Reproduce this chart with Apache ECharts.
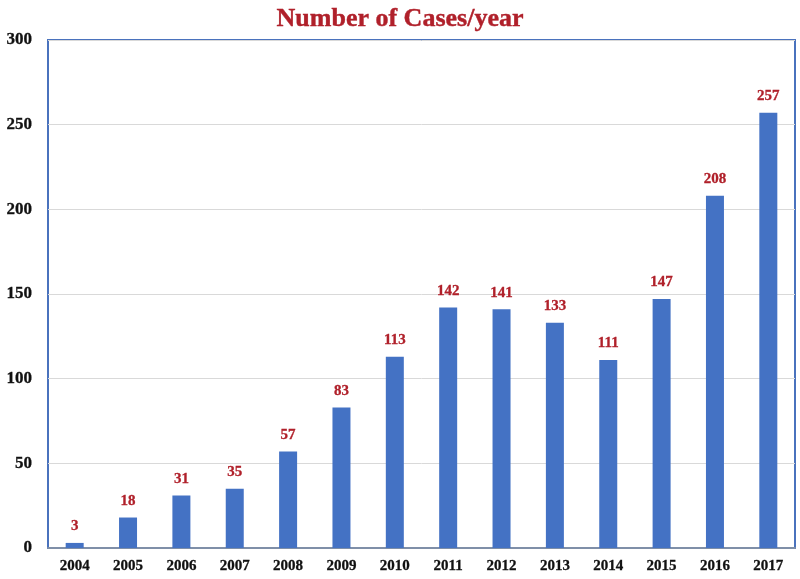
<!DOCTYPE html>
<html lang="en">
<head>
   <meta charset="utf-8">
   <title>Number of Cases/year</title>
   <script src="https://cdn.jsdelivr.net/npm/echarts@6/dist/echarts.min.js"></script>
   <style>
      html, body { margin: 0; padding: 0; background: #fff; }
      #chart-container { width: 800px; height: 579px; }
   </style>
</head>
<body>
   <div id="chart-container"></div>
   <script>
      var years = ['2004', '2005', '2006', '2007', '2008', '2009', '2010',
                   '2011', '2012', '2013', '2014', '2015', '2016', '2017'];
      var cases = [3, 18, 31, 35, 57, 83, 113, 142, 141, 133, 111, 147, 208, 257];

      var serif = 'Liberation Serif';

      var myChart = echarts.init(document.getElementById('chart-container'), null, {
         renderer: 'canvas'
      });

      var option = {
         animation: false,
         title: {
            text: 'Number of Cases/year',
            left: 'center',
            top: 1,
            textStyle: {
               fontFamily: serif,
               fontWeight: 700,
               fontSize: 26,
               color: '#b0202a',
               textBorderColor: '#b0202a',
               textBorderWidth: 0.4
            }
         },
         grid: {
            left: 48,
            right: 5,
            top: 40,
            bottom: 31,
            show: true,
            borderColor: '#4a72bd',
            borderWidth: 2,
            containLabel: false
         },
         xAxis: {
            type: 'category',
            data: years,
            axisLine: { lineStyle: { color: '#7f8fa8', width: 2 } },
            axisTick: { show: false },
            axisLabel: {
               margin: 11,
               fontFamily: serif,
               fontWeight: 700,
               fontSize: 15,
               color: '#111',
               textBorderColor: '#111',
               textBorderWidth: 0.3
            }
         },
         yAxis: {
            type: 'value',
            min: 0,
            max: 300,
            interval: 50,
            axisLine: { show: false },
            axisTick: { show: false },
            splitLine: { lineStyle: { color: '#d9d9d9', width: 1 } },
            axisLabel: {
               margin: 16,
               fontFamily: serif,
               fontWeight: 700,
               fontSize: 17,
               color: '#111',
               textBorderColor: '#111',
               textBorderWidth: 0.3
            }
         },
         series: [
            {
               type: 'bar',
               data: cases,
               barWidth: 18,
               itemStyle: { color: '#4472c4' },
               label: {
                  show: true,
                  position: 'top',
                  distance: 9,
                  fontFamily: serif,
                  fontWeight: 700,
                  fontSize: 15,
                  color: '#b0202a',
                  textBorderColor: '#b0202a',
                  textBorderWidth: 0.3
               }
            }
         ]
      };

      myChart.setOption(option);
   </script>
</body>
</html>
